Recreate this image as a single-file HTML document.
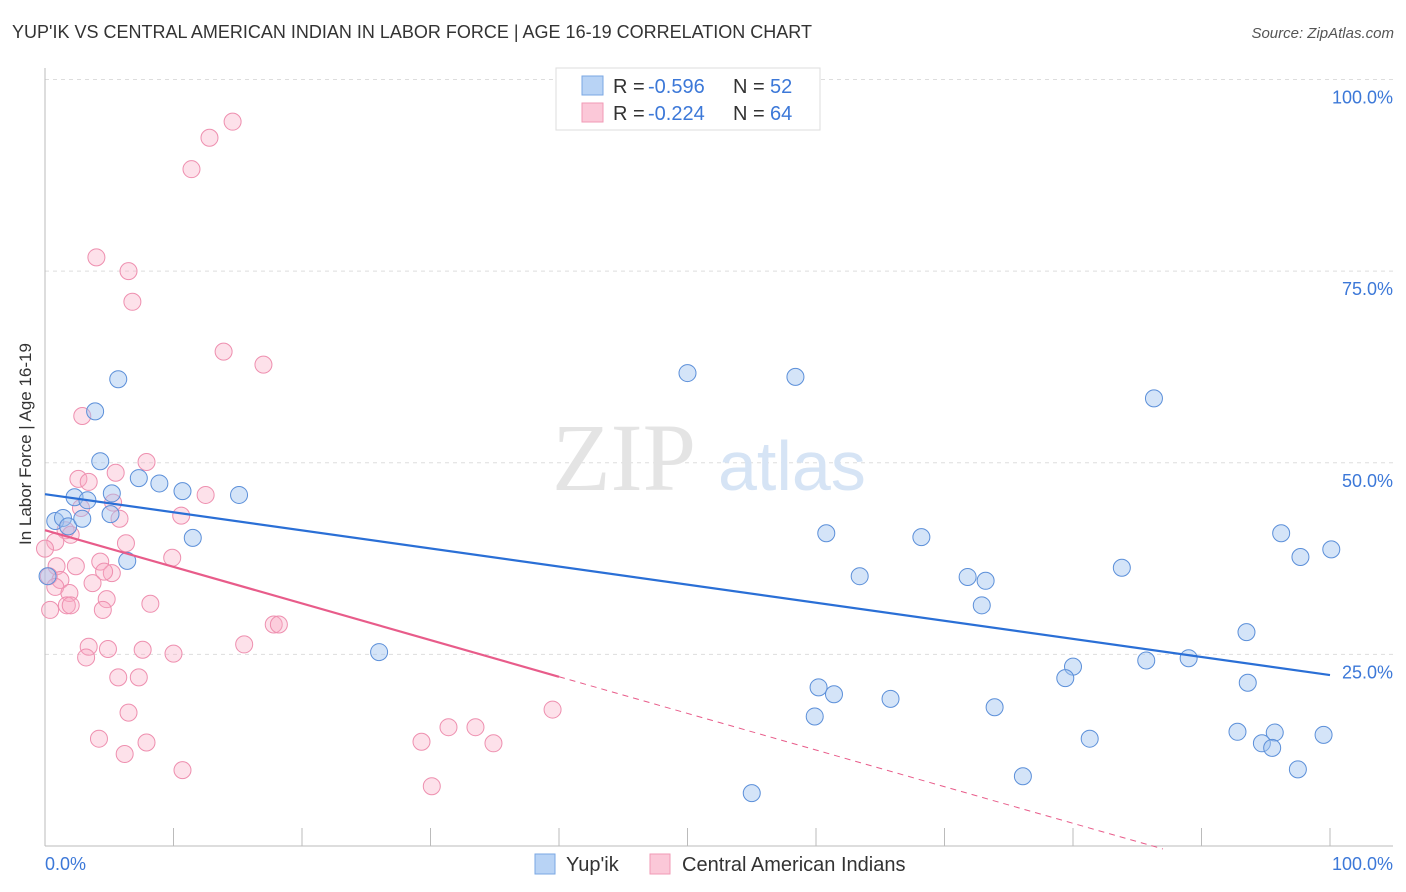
<!DOCTYPE html>
<html><head><meta charset="utf-8">
<style>
body{margin:0;background:#fff;font-family:"Liberation Sans",sans-serif;}
#wrap{position:relative;width:1406px;height:892px;overflow:hidden;}
.t{position:absolute;white-space:nowrap;}
</style></head>
<body><div id="wrap">
<div class="t" style="left:12px;top:22px;font-size:18px;color:#333;">YUP'IK VS CENTRAL AMERICAN INDIAN IN LABOR FORCE | AGE 16-19 CORRELATION CHART</div>
<div class="t" style="right:12px;top:25px;font-size:15px;color:#555;font-style:italic;">Source: ZipAtlas.com</div>
<div class="t" style="left:-64px;top:445px;font-size:17px;color:#333;transform:rotate(-90deg);width:180px;text-align:center;">In Labor Force | Age 16-19</div>
<svg id="svg" width="1406" height="892" style="position:absolute;left:0;top:0"></svg>
</div>
<script>
const xTicks=[0,10,20,30,40,50,60,70,80,90,100];
const yTicks=[25,50,75,100];
const yupikX=[5.7,3.9,4.3,2.3,3.3,5.2,7.3,8.9,10.7,15.1,0.8,1.4,1.8,2.9,5.1,11.5,6.4,0.2,26,50,58.4,86.3,60.8,68.2,63.4,71.8,73.2,72.9,83.8,96.2,97.7,100.1,93.5,80,79.4,85.7,89,93.6,60.2,61.4,65.8,73.9,59.9,81.3,92.8,95.7,94.7,95.5,99.5,76.1,97.5,55]
const yupikY=[60.9,56.7,50.2,45.5,45.1,46,48,47.3,46.3,45.8,42.4,42.8,41.7,42.7,43.3,40.2,37.2,35.2,25.3,61.7,61.2,58.4,40.8,40.3,35.2,35.1,34.6,31.4,36.3,40.8,37.7,38.7,27.9,23.4,21.9,24.2,24.5,21.3,20.7,19.8,19.2,18.1,16.9,14,14.9,14.8,13.4,12.8,14.5,9.1,10,6.9]
const camX=[14.6,12.8,11.4,4,6.5,6.8,13.9,17,2.9,7.9,5.5,2.6,3.4,12.5,10.6,5.8,5.3,2.8,1.6,6.3,2,0.8,0,9.9,4.3,2.4,0.9,5.2,4.6,0.3,1.2,3.7,0.8,1.9,1.7,4.8,8.2,2,0.4,4.5,17.8,18.2,15.5,3.4,4.9,7.6,10,3.2,5.7,7.3,6.5,4.2,29.3,31.4,33.5,34.9,39.5,7.9,6.2,10.7,30.1];
const camY=[94.5,92.4,88.3,76.8,75,71,64.5,62.8,56.1,50.1,48.7,47.9,47.5,45.8,43.1,42.7,44.8,44.1,41.2,39.5,40.6,39.7,38.8,37.6,37.1,36.5,36.5,35.6,35.8,35.2,34.7,34.3,33.8,33,31.4,32.2,31.6,31.4,30.8,30.8,28.9,28.9,26.3,26,25.7,25.6,25.1,24.6,22,22,17.4,14,13.6,15.5,15.5,13.4,17.8,13.5,12,9.9,7.8];
const camR=[];
const blueLine=[45.9,22.3];
const pinkLine=[41.2,-0.478];
const L=45,R=1330,T=79.5,B=846;
const X=v=>L+(R-L)*v/100, Y=v=>B-(B-T)*v/100;
const svg=document.getElementById('svg');const NS='http://www.w3.org/2000/svg';
function mk(tag,attrs,name,parent){const e=document.createElementNS(NS,tag);for(const k in attrs)e.setAttribute(k,attrs[k]);


(parent||svg).appendChild(e);return e;}
yTicks.forEach(v=>{mk('line',{x1:L,x2:1393,y1:Y(v),y2:Y(v),stroke:'#ddd','stroke-dasharray':'4,4'},'gridline');
const t=mk('text',{x:1393,y:Y(v)+24,'text-anchor':'end','font-size':18,fill:'#3c78d8','font-family':'Liberation Sans'},'y-tick-label');t.textContent=v.toFixed(1)+'%';});
mk('line',{x1:L,x2:L,y1:68,y2:846,stroke:'#bbb'},'y-axis');
mk('line',{x1:L,x2:1393,y1:846,y2:846,stroke:'#bbb'},'x-axis');
xTicks.forEach(v=>mk('line',{x1:X(v),x2:X(v),y1:828,y2:846,stroke:'#bbb'},'x-tick'));
let t=mk('text',{x:45,y:870,'font-size':18,fill:'#3c78d8','font-family':'Liberation Sans'},'x-tick-label');t.textContent='0.0%';
t=mk('text',{x:1393,y:870,'text-anchor':'end','font-size':18,fill:'#3c78d8','font-family':'Liberation Sans'},'x-tick-label');t.textContent='100.0%';
t=mk('text',{x:552,y:490,'font-size':96,fill:'#e4e4e4','font-family':'Liberation Serif'},'watermark');t.textContent='ZIP';
t=mk('text',{x:718,y:490,'font-size':70,fill:'#d6e4f5','font-family':'Liberation Sans'},'watermark');t.textContent='atlas';
camX.forEach((x,i)=>mk('circle',{cx:X(x),cy:Y(camY[i]),r:8.5,fill:'rgba(248,170,195,0.35)',stroke:'#ee8faf','stroke-width':1},'central-american-point'));
yupikX.forEach((x,i)=>mk('circle',{cx:X(x),cy:Y(yupikY[i]),r:8.5,fill:'rgba(160,195,240,0.45)',stroke:'#5b8fd9','stroke-width':1},'yupik-point'));
mk('line',{x1:X(0),y1:Y(blueLine[0]),x2:X(100),y2:Y(blueLine[1]),stroke:'#2a6fd6','stroke-width':2.2},'yupik-trend-line');
mk('line',{x1:X(0),y1:Y(pinkLine[0]),x2:X(40),y2:Y(pinkLine[0]+pinkLine[1]*40),stroke:'#e85c8a','stroke-width':2.2},'central-american-trend-line');
mk('line',{x1:X(40),y1:Y(pinkLine[0]+pinkLine[1]*40),x2:X(87),y2:Y(pinkLine[0]+pinkLine[1]*87),stroke:'#e85c8a','stroke-width':1,'stroke-dasharray':'6,5'},'central-american-trend-extension');
// legend
mk('rect',{x:556,y:68,width:264,height:62,fill:'#fff',stroke:'#ddd'},'legend-box');
mk('rect',{x:582,y:76,width:21,height:19,fill:'#b8d3f5',stroke:'#7aa7e3'},'legend-swatch-yupik');
mk('rect',{x:582,y:103,width:21,height:19,fill:'#fbc8d8',stroke:'#f09ab6'},'legend-swatch-central');
function lt(x,y,s,c,n){const e=mk('text',{x:x,y:y,'font-size':20,fill:c,'font-family':'Liberation Sans'},n);e.textContent=s;}
lt(613,93,'R =','#333','legend-r-label');lt(648,93,'-0.596','#3c78d8','legend-r-yupik');lt(733,93,'N =','#333','legend-n-label');lt(770,93,'52','#3c78d8','legend-n-yupik');
lt(613,120,'R =','#333','legend-r-label');lt(648,120,'-0.224','#3c78d8','legend-r-central');lt(733,120,'N =','#333','legend-n-label');lt(770,120,'64','#3c78d8','legend-n-central');
// bottom legend
mk('rect',{x:535,y:854,width:20,height:20,fill:'#b8d3f5',stroke:'#7aa7e3'},'bottom-legend-swatch-yupik');
lt(566,871,"Yup'ik",'#333','bottom-legend-yupik');
mk('rect',{x:650,y:854,width:20,height:20,fill:'#fbc8d8',stroke:'#f09ab6'},'bottom-legend-swatch-central');
lt(682,871,'Central American Indians','#333','bottom-legend-central');
</script>
</body></html>
